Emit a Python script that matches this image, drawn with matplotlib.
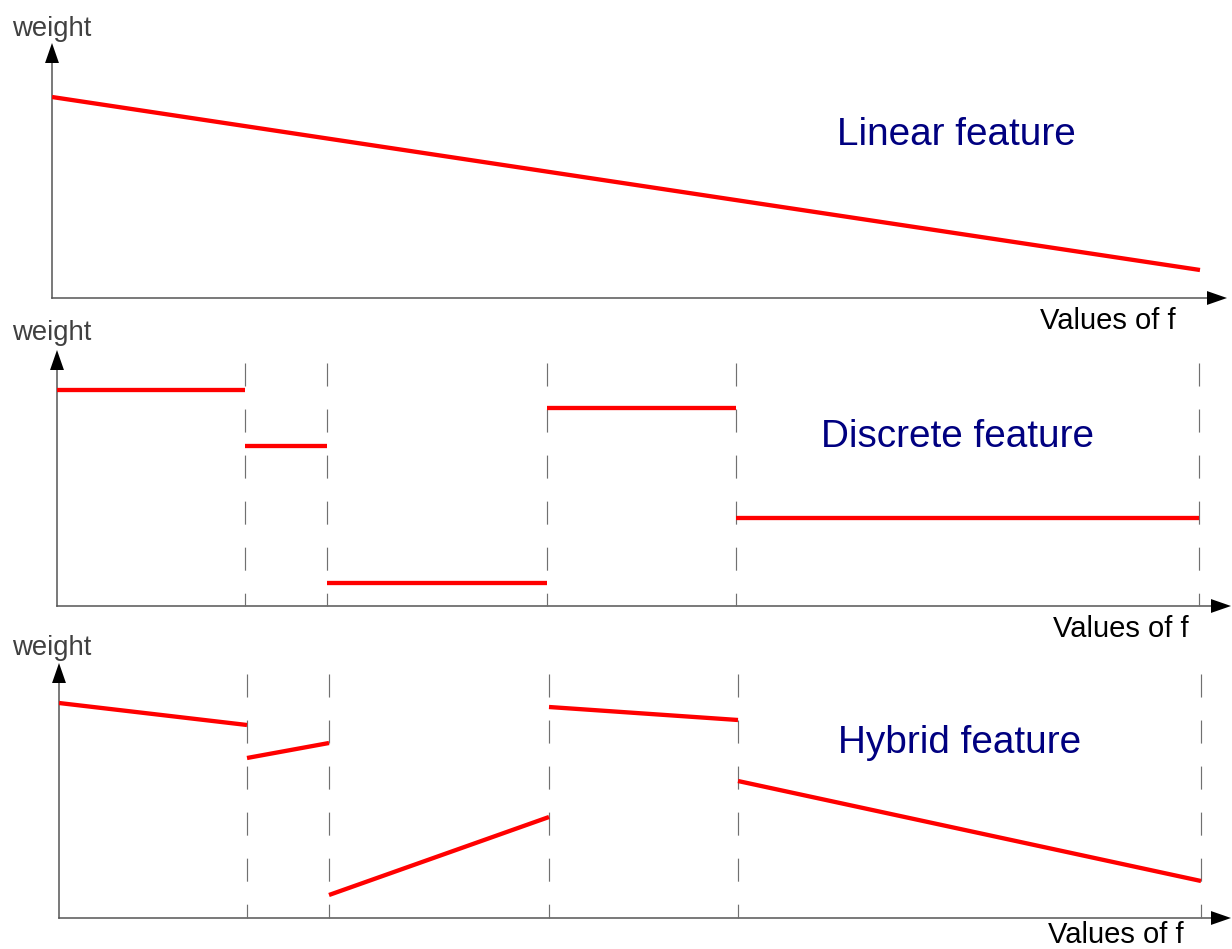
import matplotlib.pyplot as plt

W, H = 1232, 949

# panel origins (pixel position of the axis corner)
origins = [(52, 298), (57, 606), (59, 918)]

# linear feature: weight falls steadily with f
linear_f = [0, 1148]
linear_w = [201, 28]

# bin edges shared by the discrete and hybrid features
bin_edges = [0, 188, 270, 490, 679, 1142]

# discrete feature: one constant weight per bin
discrete_w = [216, 160, 23, 198, 88]

# hybrid feature: (start, end) weight of each bin
hybrid_start = [215, 160, 23, 211, 137]
hybrid_end = [193, 175, 101, 198, 37]

titles = ['Linear feature', 'Discrete feature', 'Hybrid feature']
title_pos = [(785, 153), (764, 159), (779, 165)]
xlabel_pos = [(988, -31), (996, -31), (989, -25)]
ylabel_pos = [(-40, 262), (-45, 266), (-47, 263)]
x_tips = [1175, 1174, 1172]
y_tips = [255, 256, 255]
dash_top = [None, 243, 244]

RED = '#ff0000'
AXIS = '#555555'
FONT = 'Liberation Sans'
PANEL_H = 265

fig = plt.figure(figsize=(W / 100, H / 100), dpi=100)
axes = []
for x0, y0 in origins:
    ax = fig.add_axes([x0 / W, (H - y0) / H, (W - x0) / W, PANEL_H / H])
    ax.set_xlim(0, W - x0)
    ax.set_ylim(0, PANEL_H)
    ax.axis('off')
    axes.append(ax)


def draw_axes(ax, xtip, ytip):
    head = 20
    ax.plot([0, xtip - head], [0, 0], color=AXIS, lw=1.1, clip_on=False)
    ax.plot([0, 0], [0, ytip - head], color=AXIS, lw=1.1, clip_on=False)
    style = '-|>,head_length=1.44,head_width=0.5'
    ax.annotate('', xy=(xtip, 0), xytext=(xtip - head, 0),
                arrowprops=dict(arrowstyle=style, color='black', lw=0,
                                shrinkA=0, shrinkB=0, mutation_scale=10))
    ax.annotate('', xy=(0, ytip), xytext=(0, ytip - head),
                arrowprops=dict(arrowstyle=style, color='black', lw=0,
                                shrinkA=0, shrinkB=0, mutation_scale=10))


for i, ax in enumerate(axes):
    draw_axes(ax, x_tips[i], y_tips[i])
    ax.text(*ylabel_pos[i], 'weight', family=FONT, fontsize=19.8,
            color='#404040', ha='left', va='baseline')
    ax.text(*xlabel_pos[i], 'Values of f', family=FONT, fontsize=21,
            color='black', ha='left', va='baseline')
    ax.text(*title_pos[i], titles[i], family=FONT, fontsize=27.9,
            color='#000080', ha='left', va='baseline')
    if dash_top[i] is not None:
        for e in bin_edges[1:]:
            ax.plot([e, e], [dash_top[i], 0], color='#707070', lw=0.85,
                    linestyle=(0, (19.5, 19.5)), clip_on=False)

# linear
axes[0].plot(linear_f, linear_w, color=RED, lw=3.1, solid_capstyle='butt')

# discrete
for k in range(len(discrete_w)):
    axes[1].plot([bin_edges[k], bin_edges[k + 1]], [discrete_w[k]] * 2,
                 color=RED, lw=3.1, solid_capstyle='butt')

# hybrid
for k in range(len(hybrid_start)):
    axes[2].plot([bin_edges[k], bin_edges[k + 1]],
                 [hybrid_start[k], hybrid_end[k]],
                 color=RED, lw=3.1, solid_capstyle='butt')

fig.savefig('out.png', dpi=100, facecolor='white')
